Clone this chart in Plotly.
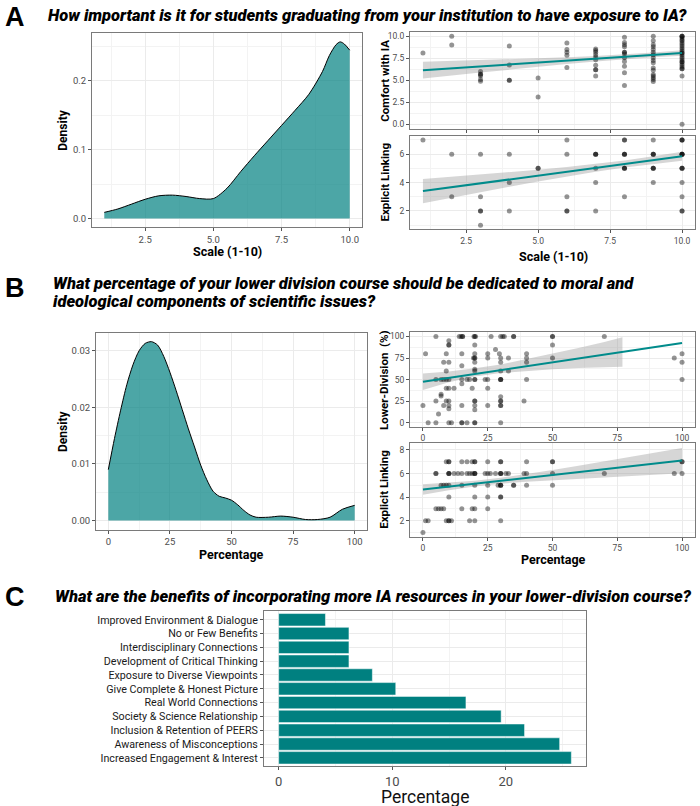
import plotly.graph_objects as go

W, H = 700, 806

# ---------------- DATA ----------------
# Panel A density (Scale 1-10)
a_dens_x = [1, 1.5, 2, 2.5, 3, 3.5, 4, 4.5, 5, 5.5, 6, 6.5, 7, 7.5, 8, 8.5, 9, 9.25, 9.5, 9.65, 9.8, 10]
a_dens_y = [0.009, 0.014, 0.021, 0.028, 0.033, 0.034, 0.032, 0.029, 0.029, 0.044, 0.068, 0.091, 0.113, 0.135,
            0.157, 0.180, 0.213, 0.236, 0.252, 0.256, 0.253, 0.244]

# Panel A scatter: Comfort with IA vs Scale
a_comfort_x = [1,
               2, 2,
               3, 3, 3, 3, 3, 3,
               4, 4, 4, 4,
               5, 5,
               6, 6, 6, 6, 6,
               7, 7, 7, 7, 7, 7, 7, 7, 7, 7,
               8, 8, 8, 8, 8, 8, 8, 8, 8, 8, 8, 8,
               9, 9, 9, 9, 9, 9, 9, 9, 9, 9, 9, 9, 9, 9, 9, 9, 9,
               10, 10, 10, 10, 10, 10, 10, 10, 10, 10, 10, 10, 10, 10, 10, 10, 10, 10, 10, 10, 10, 10, 10, 10, 10, 10, 10]
a_comfort_y = [8.1,
               10.0, 9.0,
               6.0, 5.7, 5.7, 5.5, 5.1, 4.9,
               8.9, 6.75, 5.0, 5.0,
               5.25, 3.1,
               9.25, 8.5, 8.2, 7.85, 6.45,
               8.55, 8.4, 8.2, 7.9, 7.65, 7.35, 6.7, 6.2, 6.2, 5.5,
               9.9, 9.3, 9.05, 8.8, 8.2, 8.2, 8.0, 7.55, 7.15, 6.6, 5.85, 4.4,
               10.0, 9.5, 9.05, 8.8, 8.5, 8.2, 7.9, 7.55, 7.25, 7.0, 6.4, 6.15, 5.65, 5.5, 5.3, 5.1, 4.85,
               10.0, 10.0, 10.0, 9.8, 9.6, 9.5, 9.3, 9.1, 8.9, 8.7, 8.5, 8.3, 8.1, 8.1, 7.9, 7.7, 7.5, 7.3, 7.1, 7.1,
               6.9, 6.7, 6.5, 6.3, 6.3, 5.5, 0.0]
a_comfort_fit_x = [1, 2, 3, 4, 5, 6, 7, 8, 9, 10]
a_comfort_fit_y = [6.15, 6.37, 6.58, 6.8, 7.02, 7.23, 7.45, 7.67, 7.88, 8.1]
a_comfort_lo = [5.2, 5.55, 5.88, 6.22, 6.55, 6.85, 7.14, 7.4, 7.61, 7.78]
a_comfort_hi = [7.1, 7.19, 7.28, 7.38, 7.49, 7.61, 7.76, 7.94, 8.15, 8.42]

# Panel A scatter: Explicit Linking vs Scale
a_link_x = [1,
            2, 2,
            3, 3, 3, 3, 3,
            4, 4, 4,
            5, 5,
            6, 6, 6, 6, 6,
            7, 7, 7, 7, 7, 7,
            8, 8, 8, 8, 8, 8, 8, 8, 8,
            9, 9, 9, 9, 9, 9, 9, 9,
            10, 10, 10, 10, 10, 10, 10, 10, 10, 10, 10, 10, 10, 10]
a_link_y = [7,
            6, 3,
            6, 3, 2, 2, 1,
            6, 4, 2,
            5, 5,
            7, 6, 3, 2, 2,
            6, 6, 6, 5, 4, 2,
            7, 7, 6, 6, 6, 5, 5, 5, 3,
            7, 6, 6, 6, 5, 5, 5, 4,
            7, 7, 7, 6, 6, 6, 6, 5, 5, 5, 4, 3, 2, 2]
a_link_fit_x = [1, 2, 3, 4, 5, 6, 7, 8, 9, 10]
a_link_fit_y = [3.4, 3.67, 3.94, 4.22, 4.49, 4.76, 5.03, 5.31, 5.58, 5.85]
a_link_lo = [2.55, 2.94, 3.32, 3.71, 4.08, 4.43, 4.76, 5.06, 5.31, 5.53]
a_link_hi = [4.25, 4.4, 4.56, 4.73, 4.9, 5.09, 5.3, 5.56, 5.85, 6.17]

# Panel B density (Percentage)
b_dens_x = [0, 2.5, 5, 7.5, 10, 12.5, 15, 17.5, 20, 22.5, 25, 27.5, 30, 32.5, 35, 37.5, 40, 42.5, 45, 47.5,
            50, 52.5, 55, 57.5, 60, 65, 70, 75, 80, 85, 90, 95, 100]
b_dens_y = [0.0090, 0.0145, 0.0195, 0.0240, 0.0275, 0.0300, 0.0313, 0.0316, 0.0310, 0.0290, 0.0262, 0.0230,
            0.0196, 0.0162, 0.0130, 0.0098, 0.0072, 0.0052, 0.0043, 0.0040, 0.0036, 0.0028, 0.0018, 0.0010,
            0.0006, 0.0006, 0.0008, 0.0006, 0.0002, 0.0002, 0.0006, 0.0020, 0.0027]

# Panel B scatter: Lower-Division (%) vs Percentage
b_lower_x = [5, 14, 14.7, 15.3, 15.3, 19.7, 20.3, 20, 26.3, 30, 30.8, 31.4, 35, 35, 50, 50, 70,
             10, 10, 10, 20, 50, 28,
             1, 9, 15, 20, 25, 29.5, 40, 100,
             19.5, 20, 20, 25, 30, 33, 40, 50, 97,
             8, 10, 20, 30, 40, 100,
             15, 20, 9, 20, 30, 33,
             5, 7, 8, 9, 10, 15, 17, 18, 20, 20, 24, 25, 30, 30, 30, 40, 100,
             15, 9, 10, 12, 19, 25,
             7, 7, 30,
             5, 9, 10, 20, 20, 30, 30, 39,
             0, 8, 10, 15, 20, 25, 30, 30,
             10, 20, 6,
             2, 5, 10, 11, 15, 15, 17, 20, 20, 30]
b_lower_y = [100, 100, 100, 100, 100, 100, 100, 100, 100, 100, 100, 100, 100, 100, 100, 100, 100,
             95, 90, 90, 90, 90, 85,
             80, 80, 80, 80, 80, 80, 80, 80,
             75, 75, 75, 75, 75, 75, 75, 75, 75,
             70, 70, 70, 70, 70, 70,
             66, 62, 60, 60, 60, 60,
             50, 50, 50, 50, 50, 50, 50, 50, 50, 50, 50, 50, 50, 50, 50, 50, 50,
             45, 40, 40, 40, 40, 40,
             33, 31, 30,
             25, 25, 25, 25, 25, 25, 25, 25,
             20, 20, 20, 20, 20, 20, 20, 20,
             16, 15, 10,
             0, 0, 0, 0, 0, 0, 0, 0, 0, 0]
b_lower_fit_x = [0, 100]
b_lower_fit_y = [47.5, 92.5]
b_lower_band_x = [0, 10, 20, 30, 40, 50, 60, 70, 77]
b_lower_lo = [38, 47, 53.5, 57.5, 60, 62, 63.5, 64.5, 65]
b_lower_hi = [57, 59.5, 63, 67.5, 74, 80, 86.5, 93.5, 99]

# Panel B scatter: Explicit Linking vs Percentage
b_link_x = [9, 10, 10, 15, 17, 19, 20, 20, 25, 30, 30, 40, 50, 50, 100, 100,
            5, 5, 10, 10, 10, 12, 13.5, 15, 17, 18, 19, 20, 20, 20, 24, 25, 26, 28, 30, 30, 30, 32, 33, 39, 40, 50, 70, 97, 100,
            7, 8, 9, 10, 15, 20, 25, 29, 30, 30, 30, 35, 35, 40, 50,
            10, 20, 25, 30, 30,
            5, 6, 7, 8, 15, 19, 20, 25,
            1, 2, 9, 10, 10, 11, 18, 20, 30,
            0]
b_link_y = [7] * 16 + [6] * 29 + [5] * 15 + [4] * 5 + [3] * 8 + [2] * 9 + [1]
b_link_fit_x = [0, 10, 20, 30, 40, 50, 60, 70, 80, 90, 100]
b_link_fit_y = [4.65, 4.9, 5.14, 5.39, 5.63, 5.88, 6.12, 6.37, 6.61, 6.86, 7.1]
b_link_lo = [4.2, 4.57, 4.89, 5.14, 5.31, 5.45, 5.57, 5.69, 5.8, 5.92, 6.03]
b_link_hi = [5.1, 5.23, 5.39, 5.64, 5.95, 6.31, 6.67, 7.05, 7.42, 7.8, 8.17]

# Panel C bars
c_labels = ["Improved Environment & Dialogue", "No or Few Benefits", "Interdisciplinary Connections",
            "Development of Critical Thinking", "Exposure to Diverse Viewpoints", "Give Complete & Honest Picture",
            "Real World Connections", "Society & Science Relationship", "Inclusion & Retention of PEERS",
            "Awareness of Misconceptions", "Increased Engagement & Interest"]
c_values = [4.12, 6.19, 6.19, 6.19, 8.25, 10.31, 16.49, 19.59, 21.65, 24.74, 25.77]

# Tick labels
scale_ticks = [2.5, 5, 7.5, 10]
scale_ticktext = ["2.5", "5.0", "7.5", "10.0"]
a_dens_ticks = [0, 0.1, 0.2]
a_dens_ticktext = ["0.0", "0.1", "0.2"]
comfort_ticks = [0, 2.5, 5, 7.5, 10]
comfort_ticktext = ["0.0", "2.5", "5.0", "7.5", "10.0"]
pct_ticks = [0, 25, 50, 75, 100]
pct_ticktext = ["0", "25", "50", "75", "100"]
b_dens_ticks = [0, 0.01, 0.02, 0.03]
b_dens_ticktext = ["0.00", "0.01", "0.02", "0.03"]
link_ticks_a = [2, 4, 6]
link_ticks_b = [2, 4, 6, 8]
c_ticks = [0, 10, 20]

TITLE_A = "How important is it for students graduating from your institution to have exposure to IA?"
TITLE_B1 = "What percentage of your lower division course should be dedicated to moral and"
TITLE_B2 = "ideological components of scientific issues?"
TITLE_C = "What are the benefits of incorporating more IA resources in your lower-division course?"

# ---------------- STYLE ----------------
FONT = "Roboto"
TEAL_FILL = "rgba(0,128,128,0.7)"
TEAL_LINE = "#008B8B"
BAND = "rgba(153,153,153,0.4)"
PT = "rgba(0,0,0,0.42)"
GRID = "#EBEBEB"
BORDER = "#7a7a7a"
TICKC = "#4D4D4D"


def fx(p):
    return p / W


def fy(p):
    return 1 - p / H


def axis(dom, rng, anchor, tickvals, ticktext=None, labels=True, size=10, minor=None, color=TICKC):
    d = dict(domain=dom, range=rng, anchor=anchor, showline=True, mirror=True, linecolor=BORDER,
             linewidth=1, ticks="outside", ticklen=3, tickcolor="#555", tickwidth=1,
             showgrid=True, gridcolor=GRID, gridwidth=1, zeroline=False, tickvals=tickvals,
             showticklabels=labels, tickfont=dict(family=FONT, size=size, color=color), fixedrange=True)
    if ticktext is not None:
        d["ticktext"] = ticktext
    if minor is not None:
        d["minor"] = dict(tickvals=minor, showgrid=True, gridcolor="#F3F3F3", gridwidth=0.6, ticks="")
    return d


fig = go.Figure()

# Panel boxes (pixels): left, right, top, bottom
P1 = (92, 362, 32, 227)
P2 = (410, 695, 31, 128)
P3 = (410, 695, 135, 229)
P4 = (96, 367, 333, 530)
P5 = (410, 695, 332, 427)
P6 = (410, 695, 443, 537)
P7 = (264, 586, 612, 767)


def dom(P):
    return [fx(P[0]), fx(P[1])], [fy(P[3]), fy(P[2])]


def band(xs, lo, hi, xa, ya):
    return go.Scatter(x=list(xs) + list(xs)[::-1], y=list(hi) + list(lo)[::-1], fill="toself",
                      fillcolor=BAND, line=dict(width=0), mode="lines", hoverinfo="skip",
                      xaxis=xa, yaxis=ya, showlegend=False)


def pts(xs, ys, xa, ya):
    return go.Scatter(x=xs, y=ys, mode="markers", marker=dict(size=5, color=PT, line=dict(width=0)),
                      xaxis=xa, yaxis=ya, showlegend=False)


def fitline(xs, ys, xa, ya):
    return go.Scatter(x=xs, y=ys, mode="lines", line=dict(color=TEAL_LINE, width=2),
                      xaxis=xa, yaxis=ya, showlegend=False)


def dens(xs, ys, xa, ya):
    return go.Scatter(x=xs, y=ys, mode="lines", fill="tozeroy", fillcolor=TEAL_FILL,
                      line=dict(color="black", width=1, shape="spline", smoothing=0.8),
                      xaxis=xa, yaxis=ya, showlegend=False)


fig.add_trace(dens(a_dens_x, a_dens_y, "x", "y"))

fig.add_trace(band(a_comfort_fit_x, a_comfort_lo, a_comfort_hi, "x2", "y2"))
fig.add_trace(pts(a_comfort_x, a_comfort_y, "x2", "y2"))
fig.add_trace(fitline(a_comfort_fit_x, a_comfort_fit_y, "x2", "y2"))

fig.add_trace(band(a_link_fit_x, a_link_lo, a_link_hi, "x3", "y3"))
fig.add_trace(pts(a_link_x, a_link_y, "x3", "y3"))
fig.add_trace(fitline(a_link_fit_x, a_link_fit_y, "x3", "y3"))

fig.add_trace(dens(b_dens_x, b_dens_y, "x4", "y4"))

fig.add_trace(band(b_lower_band_x, b_lower_lo, b_lower_hi, "x5", "y5"))
fig.add_trace(pts(b_lower_x, b_lower_y, "x5", "y5"))
fig.add_trace(fitline(b_lower_fit_x, b_lower_fit_y, "x5", "y5"))

fig.add_trace(band(b_link_fit_x, b_link_lo, b_link_hi, "x6", "y6"))
fig.add_trace(pts(b_link_x, b_link_y, "x6", "y6"))
fig.add_trace(fitline(b_link_fit_x, b_link_fit_y, "x6", "y6"))

fig.add_trace(go.Bar(x=c_values, y=c_labels, orientation="h", width=0.9,
                     marker=dict(color="#008080", line=dict(color="white", width=0.5)),
                     xaxis="x7", yaxis="y7", showlegend=False))

layout = dict(width=W, height=H, margin=dict(l=0, r=0, t=0, b=0), paper_bgcolor="white",
              plot_bgcolor="white", showlegend=False, bargap=0.1)

d = dom(P1)
layout["xaxis"] = axis(d[0], [0.55, 10.45], "y", scale_ticks, scale_ticktext, size=9.5,
                       minor=[1.25, 3.75, 6.25, 8.75])
layout["yaxis"] = axis(d[1], [-0.0128, 0.269], "x", a_dens_ticks, a_dens_ticktext, size=9.5,
                       minor=[0.05, 0.15, 0.25])
d = dom(P2)
layout["xaxis2"] = axis(d[0], [0.55, 10.45], "y2", scale_ticks, scale_ticktext, labels=False,
                        minor=[1.25, 3.75, 6.25, 8.75])
layout["yaxis2"] = axis(d[1], [-0.5, 10.5], "x2", comfort_ticks, comfort_ticktext, size=8.5,
                        minor=[1.25, 3.75, 6.25, 8.75])
d = dom(P3)
layout["xaxis3"] = axis(d[0], [0.55, 10.45], "y3", scale_ticks, scale_ticktext, size=8.5,
                        minor=[1.25, 3.75, 6.25, 8.75])
layout["yaxis3"] = axis(d[1], [0.7, 7.3], "x3", link_ticks_a, None, size=8.5, minor=[1, 3, 5, 7])
d = dom(P4)
layout["xaxis4"] = axis(d[0], [-5, 105], "y4", pct_ticks, pct_ticktext, size=9.5,
                        minor=[12.5, 37.5, 62.5, 87.5])
layout["yaxis4"] = axis(d[1], [-0.0016, 0.0331], "x4", b_dens_ticks, b_dens_ticktext, size=9.5,
                        minor=[0.005, 0.015, 0.025])
d = dom(P5)
layout["xaxis5"] = axis(d[0], [-5, 105], "y5", pct_ticks, pct_ticktext, size=8.5,
                        minor=[12.5, 37.5, 62.5, 87.5])
layout["yaxis5"] = axis(d[1], [-5, 105], "x5", pct_ticks, pct_ticktext, size=8.5,
                        minor=[12.5, 37.5, 62.5, 87.5])
d = dom(P6)
layout["xaxis6"] = axis(d[0], [-5, 105], "y6", pct_ticks, pct_ticktext, size=8.5,
                        minor=[12.5, 37.5, 62.5, 87.5])
layout["yaxis6"] = axis(d[1], [0.64, 8.6], "x6", link_ticks_b, None, size=8.5, minor=[1, 3, 5, 7])
d = dom(P7)
layout["xaxis7"] = axis(d[0], [-1.29, 27.06], "y7", c_ticks, None, size=13, minor=[5, 15, 25])
layout["yaxis7"] = axis(d[1], [10.6, -0.6], "x7", None, None, size=10.7, color="#1a1a1a")
layout["yaxis7"].pop("tickvals")
layout["yaxis7"]["type"] = "category"

ann = []


def text(t, x, y, size, bold=True, italic=False, angle=0, xanchor="center", family=FONT, color="black",
         weight="bold"):
    f = dict(family=family, size=size, color=color)
    if bold:
        f["weight"] = weight
    if italic:
        f["style"] = "italic"
    ann.append(dict(text=t, x=fx(x), y=fy(y), xref="paper", yref="paper", showarrow=False,
                    xanchor=xanchor, yanchor="middle", textangle=angle, font=f))


# Panel letters & titles
text("A", 3, 16, 27, family="Liberation Sans", xanchor="left")
text("B", 3, 288, 27, family="Liberation Sans", xanchor="left")
text("C", 3, 597, 27, family="Liberation Sans", xanchor="left")
text(TITLE_A, 46, 15, 16.5, italic=True, xanchor="left", weight=900)
text(TITLE_B1, 51, 283, 16.5, italic=True, xanchor="left", weight=900)
text(TITLE_B2, 51, 301, 16.5, italic=True, xanchor="left", weight=900)
text(TITLE_C, 53, 597, 16.5, italic=True, xanchor="left", weight=900)

# Axis titles
text("Density", 63, 130, 12, angle=-90)
text("Scale (1-10)", 227, 251, 12.5)
text("Comfort with IA", 385, 80, 11.5, angle=-90)
text("Explicit Linking", 385, 182, 11.5, angle=-90)
text("Scale (1-10)", 553, 256, 12.5)
text("Density", 63, 432, 12, angle=-90)
text("Percentage", 231, 555, 12.5)
text("Lower-Division\u00a0\u00a0(%)", 384, 380, 11.5, angle=-90)
text("Explicit Linking", 384, 490, 11.5, angle=-90)
text("Percentage", 553, 560, 12.5)
text("Percentage", 425, 798, 17.5, bold=False, color="#111")

layout["annotations"] = ann
fig.update_layout(**layout)

fig.write_html("out.html", config={"displayModeBar": False},
               post_script="document.body.style.margin='0px';document.body.style.overflow='hidden';")
